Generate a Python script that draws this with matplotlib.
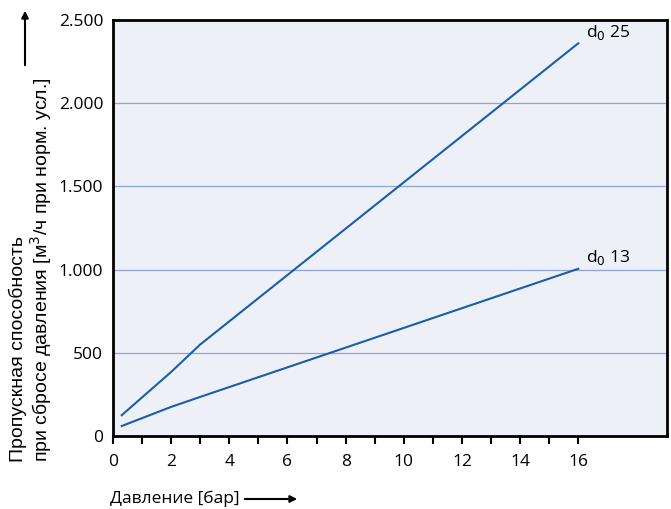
import matplotlib
matplotlib.use("Agg")
import matplotlib.pyplot as plt
from matplotlib.ticker import FixedLocator

plt.rcParams['font.family'] = ['Open Sans', 'DejaVu Sans']

# данные кривых (давление, бар -> пропускная способность)
p_25 = [0.3, 2, 3, 16]
q_25 = [125, 385, 550, 2360]
p_13 = [0.3, 2, 3, 16]
q_13 = [60, 175, 235, 1005]
x_ticks = [0, 2, 4, 6, 8, 10, 12, 14, 16]
y_ticks = [0, 500, 1000, 1500, 2000, 2500]
y_labels = ['0', '500', '1.000', '1.500', '2.000', '2.500']

line_c = '#1a5ea8'
W, H = 671, 509
fig = plt.figure(figsize=(W / 100, H / 100), dpi=100)
ax = fig.add_axes([113 / W, 1 - 436 / H, (667 - 113) / W, (436 - 20) / H])
ax.set_facecolor('#eef0f8')

ax.plot(p_25, q_25, color=line_c, lw=1.5)
ax.plot(p_13, q_13, color=line_c, lw=1.5)

ax.text(16.25, 2370, r'd$_0$ 25', fontsize=12.5, va='bottom')
ax.text(16.25, 1015, r'd$_0$ 13', fontsize=12.5, va='bottom')

ax.set_xlim(0, 19.05)
ax.set_ylim(0, 2500)
ax.xaxis.set_major_locator(FixedLocator(x_ticks))
ax.xaxis.set_minor_locator(FixedLocator(list(range(0, 17))))
ax.set_yticks(y_ticks)
ax.set_yticklabels(y_labels)
for yv in y_ticks[1:-1]:
    ax.axhline(yv, color='#90a4d4', lw=0.9, zorder=0)

for s in ax.spines.values():
    s.set_linewidth(2)
ax.tick_params(axis='x', which='both', direction='out', length=6, width=1.5, labelsize=12.5, pad=7)
ax.tick_params(axis='y', length=0, labelsize=12.5, pad=7)

fig.text(9 / W, 1 - 462 / H, 'Пропускная способность\nпри сбросе давления [м$^3$/ч при норм. усл.]',
         rotation=90, ha='left', va='bottom', fontsize=14, multialignment='left',
         linespacing=1.05, family=['Liberation Sans', 'DejaVu Sans'])
fig.text(110 / W, 1 - 499 / H, 'Давление [бар]', fontsize=12.5, va='center')

# стрелки у подписей осей
fig.add_artist(matplotlib.patches.FancyArrowPatch((242 / W, 1 - 499 / H), (300 / W, 1 - 499 / H),
               transform=fig.transFigure, arrowstyle='-|>', mutation_scale=10, lw=1.5, color='black'))
fig.add_artist(matplotlib.patches.FancyArrowPatch((25 / W, 1 - 68 / H), (25 / W, 1 - 8 / H),
               transform=fig.transFigure, arrowstyle='-|>', mutation_scale=10, lw=1.5, color='black'))

fig.savefig('out.png', dpi=100)
